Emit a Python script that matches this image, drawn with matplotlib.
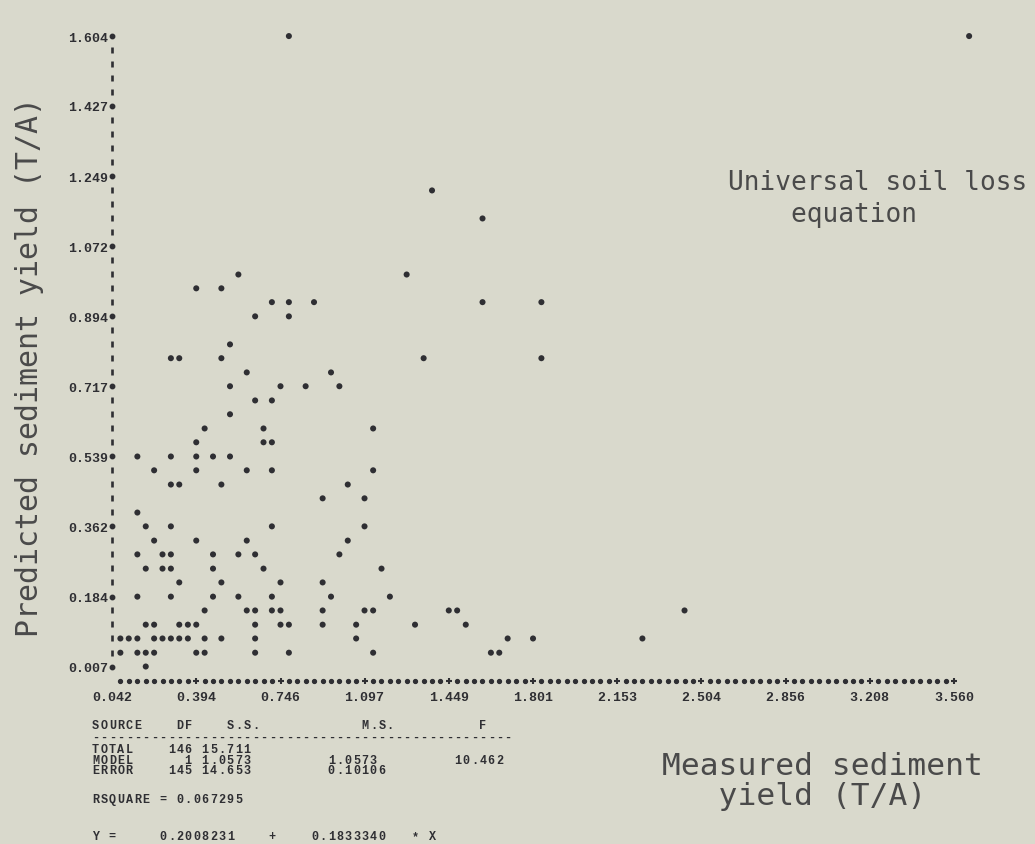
import numpy as np
import matplotlib
matplotlib.use("Agg")
import matplotlib.pyplot as plt

# axis scale printed by the line-printer plot
x_ticks = [0.042, 0.394, 0.746, 1.097, 1.449, 1.801, 2.153, 2.504, 2.856, 3.208, 3.560]
y_ticks = [0.007, 0.184, 0.362, 0.539, 0.717, 0.894, 1.072, 1.249, 1.427, 1.604]
x_labels = ["0.042", "0.394", "0.746", "1.097", "1.449", "1.801",
            "2.153", "2.504", "2.856", "3.208", "3.560"]
y_labels = ["0.007", "0.184", "0.362", "0.539", "0.717", "0.894",
            "1.072", "1.249", "1.427", "1.604"]

# measured vs predicted sediment yield (T/A), one line per printed row
measured = [
    0.781, 3.623,
    1.379,
    1.590,
    0.570, 1.273,
    0.394, 0.499,
    0.710, 0.781, 0.886, 1.590, 1.836,
    0.640, 0.781,
    0.535,
    0.288, 0.323, 0.499, 1.344, 1.836,
    0.605, 0.957,
    0.535, 0.746, 0.851, 0.992,
    0.640, 0.710,
    0.535,
    0.429, 0.675, 1.133,
    0.394, 0.675, 0.710,
    0.148, 0.288, 0.394, 0.464, 0.535,
    0.218, 0.394, 0.605, 0.710, 1.133,
    0.288, 0.323, 0.499, 1.027,
    0.922, 1.097,
    0.148,
    0.183, 0.288, 0.710, 1.097,
    0.218, 0.394, 0.605, 1.027,
    0.148, 0.253, 0.288, 0.464, 0.570, 0.640, 0.992,
    0.183, 0.253, 0.288, 0.464, 0.675, 1.168,
    0.323, 0.499, 0.746, 0.922,
    0.148, 0.288, 0.464, 0.570, 0.710, 0.957, 1.203,
    0.429, 0.605, 0.640, 0.710, 0.746, 0.922, 1.097, 1.133, 1.449, 1.484, 2.434,
    0.183, 0.218, 0.323, 0.359, 0.394, 0.640, 0.746, 0.781, 0.922, 1.062, 1.308, 1.520,
    0.077, 0.112, 0.148, 0.218, 0.253, 0.288, 0.323, 0.359, 0.429, 0.499, 0.640, 1.062,
    1.695, 1.801, 2.258,
    0.077, 0.148, 0.183, 0.218, 0.394, 0.429, 0.640, 0.781, 1.133, 1.625, 1.660,
    0.183,
]
predicted = [
    1.604, 1.604,
    1.213,
    1.142,
    1.000, 1.000,
    0.965, 0.965,
    0.930, 0.930, 0.930, 0.930, 0.930,
    0.894, 0.894,
    0.823,
    0.788, 0.788, 0.788, 0.788, 0.788,
    0.752, 0.752,
    0.717, 0.717, 0.717, 0.717,
    0.681, 0.681,
    0.646,
    0.610, 0.610, 0.610,
    0.575, 0.575, 0.575,
    0.539, 0.539, 0.539, 0.539, 0.539,
    0.504, 0.504, 0.504, 0.504, 0.504,
    0.468, 0.468, 0.468, 0.468,
    0.433, 0.433,
    0.397,
    0.362, 0.362, 0.362, 0.362,
    0.326, 0.326, 0.326, 0.326,
    0.291, 0.291, 0.291, 0.291, 0.291, 0.291, 0.291,
    0.255, 0.255, 0.255, 0.255, 0.255, 0.255,
    0.220, 0.220, 0.220, 0.220,
    0.184, 0.184, 0.184, 0.184, 0.184, 0.184, 0.184,
    0.149, 0.149, 0.149, 0.149, 0.149, 0.149, 0.149, 0.149, 0.149, 0.149, 0.149,
    0.113, 0.113, 0.113, 0.113, 0.113, 0.113, 0.113, 0.113, 0.113, 0.113, 0.113, 0.113,
    0.078, 0.078, 0.078, 0.078, 0.078, 0.078, 0.078, 0.078, 0.078, 0.078, 0.078, 0.078,
    0.078, 0.078, 0.078,
    0.042, 0.042, 0.042, 0.042, 0.042, 0.042, 0.042, 0.042, 0.042, 0.042, 0.042,
    0.007,
]

# regression summary printed under the plot (fixed printer columns)
table_lines = [
    "SOURCE    DF    S.S.            M.S.          F",
    "-" * 50,
    "TOTAL    146 15.711",
    "MODEL      1 1.0573         1.0573         10.462",
    "ERROR    145 14.653         0.10106",
    "RSQUARE = 0.067295",
    "Y =     0.2008231    +    0.1833340   * X",
]
table_y = [726, 738, 750, 761, 771, 800, 837]

paper = "#d9d9cc"
ink = "#2f2f33"
type_ink = "#4a4a4a"
mono = "DejaVu Sans Mono"
printer = "Liberation Mono"

W, H = 1035, 845
pitch = 8.42  # printer column width in pixels

fig = plt.figure(figsize=(W / 100, H / 100), dpi=100)
fig.patch.set_facecolor(paper)

ax = fig.add_axes([112 / W, 1 - 688 / H, 888 / W, 663 / H])
ax.set_facecolor(paper)
ax.set_xlim(0.042, 3.752)
ax.set_ylim(-0.0449, 1.6346)
for s in ax.spines.values():
    s.set_visible(False)

ax.set_xticks(x_ticks, x_labels)
ax.set_yticks(y_ticks, y_labels)
ax.tick_params(length=0, labelsize=9.5, labelcolor=ink)
ax.tick_params(axis="x", pad=3)
ax.tick_params(axis="y", pad=3)
for lab in ax.get_xticklabels() + ax.get_yticklabels():
    lab.set_fontfamily(printer)
    lab.set_fontweight("bold")

# printer-style axes: "|" per row on the y axis, dots per column on the x axis
rows = np.linspace(y_ticks[0], y_ticks[-1], 46)
row_step = rows[1] - rows[0]
minor_rows = [r for i, r in enumerate(rows) if i % 5]
ax.plot([x_ticks[0]] * len(minor_rows), minor_rows, ls="none", marker="|",
        ms=5, mew=1.9, color=ink, clip_on=False)
ax.plot([x_ticks[0]] * len(y_ticks), y_ticks, ls="none", marker="o",
        ms=3.2, color=ink, clip_on=False)

cols = np.linspace(x_ticks[0], x_ticks[-1], 101)[1:]
base = y_ticks[0] - row_step
minor_cols = [c for i, c in enumerate(cols, 1) if i % 10]
ax.plot(minor_cols, [base] * len(minor_cols), ls="none", marker="o",
        ms=2.8, color=ink, clip_on=False)
ax.plot(x_ticks[1:], [base] * (len(x_ticks) - 1), ls="none", marker="+",
        ms=4, mew=1.5, color=ink, clip_on=False)

ax.scatter(measured, predicted, s=19, color=ink, edgecolors="none",
           clip_on=False, zorder=3)

fig.text(30 / W, 1 - 367 / H, "Predicted sediment yield (T/A)", rotation=90,
         ha="center", va="center", fontsize=21.5, family=mono, color=type_ink)
fig.text(728 / W, 1 - 190 / H, "Universal soil loss", ha="left",
         va="baseline", fontsize=18.8, family=mono, color=type_ink)
fig.text(728 / W, 1 - 222 / H, "    equation", ha="left",
         va="baseline", fontsize=18.8, family=mono, color=type_ink)
fig.text(662 / W, 1 - 775 / H, "Measured sediment", ha="left",
         va="baseline", fontsize=22.5, family=mono, color=type_ink)
fig.text(662 / W, 1 - 805 / H, "   yield (T/A)", ha="left",
         va="baseline", fontsize=22.5, family=mono, color=type_ink)

# one glyph per printer column so the spacing follows the printout
for line, y in zip(table_lines, table_y):
    for i, ch in enumerate(line):
        if ch != " ":
            fig.text((92 + i * pitch) / W, 1 - y / H, ch, ha="left", va="center",
                     fontsize=8.5, family=printer, fontweight="bold", color=ink)

fig.savefig("out.png", dpi=100, facecolor=paper)
